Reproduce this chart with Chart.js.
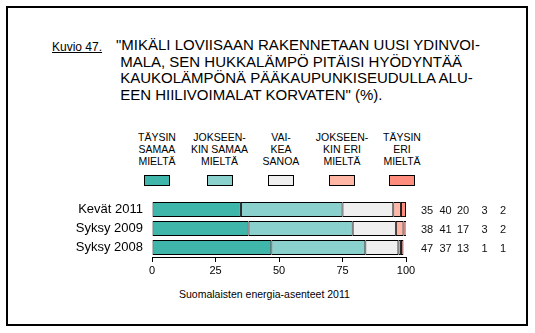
<!DOCTYPE html>
<html>
<head>
<meta charset="utf-8">
<script src="https://cdn.jsdelivr.net/npm/chart.js@4"></script>
<style>
  body { margin: 0; background: #fff; font-family: "Liberation Sans", Arial, sans-serif; }
  #wrap { position: relative; width: 535px; height: 333px; overflow: hidden; }
  #frame { position: absolute; left: 6px; top: 6px; width: 518px; height: 316px; border: 2px solid #000; }
  canvas { position: absolute; left: 0; top: 0; }
  .kuvio { position: absolute; left: 52px; top: 40px; font-size: 12px; text-decoration: underline; }
  .title { position: absolute; left: 116px; top: 37px; font-size: 15px; line-height: 16.7px; white-space: pre; }
  .leg { position: absolute; top: 131px; width: 70px; margin-left: -35px; text-align: center; font-size: 10.5px; line-height: 12px; }
  .legbox { position: absolute; top: 175px; width: 24px; height: 9px; margin-left: -13px; border: 1px solid #000; }
  .foot { position: absolute; left: 179px; top: 288px; font-size: 10.5px; }
</style>
</head>
<body>
<div id="wrap">
  <div id="frame"></div>
  <div class="kuvio">Kuvio 47.</div>
  <div class="title">"MIKÄLI LOVIISAAN RAKENNETAAN UUSI YDINVOI-
 MALA, SEN HUKKALÄMPÖ PITÄISI HYÖDYNTÄÄ
 KAUKOLÄMPÖNÄ PÄÄKAUPUNKISEUDULLA ALU-
 EEN HIILIVOIMALAT KORVATEN" (%).</div>
  <div id="legend"></div>
  <div class="foot">Suomalaisten energia-asenteet 2011</div>
  <canvas id="chart" width="535" height="333"></canvas>
</div>
<script>
const categories = ['Kevät 2011', 'Syksy 2009', 'Syksy 2008'];
const answers = [
  'TÄYSIN\nSAMAA\nMIELTÄ',
  'JOKSEEN-\nKIN SAMAA\nMIELTÄ',
  'VAI-\nKEA\nSANOA',
  'JOKSEEN-\nKIN ERI\nMIELTÄ',
  'TÄYSIN\nERI\nMIELTÄ'
];
const taysinSamaa = [35, 38, 47];
const jokseenkinSamaa = [40, 41, 37];
const vaikeaSanoa = [20, 17, 13];
const jokseenkinEri = [3, 3, 1];
const taysinEri = [2, 2, 1];
const xTicks = [0, 25, 50, 75, 100];

const colors = ['#40b5aa', '#8ad0cc', '#efefef', '#ffb6a5', '#ff8d7d'];
const series = [taysinSamaa, jokseenkinSamaa, vaikeaSanoa, jokseenkinEri, taysinEri];

// legend columns above the chart
const legendX = [157, 219.5, 281, 342, 402];
const legend = document.getElementById('legend');
answers.forEach((a, i) => {
  const t = document.createElement('div');
  t.className = 'leg';
  t.style.left = legendX[i] + 'px';
  t.innerHTML = a.split('\n').join('<br>');
  legend.appendChild(t);
  const b = document.createElement('div');
  b.className = 'legbox';
  b.style.left = legendX[i] + 'px';
  b.style.background = colors[i];
  legend.appendChild(b);
});

// percentage table to the right of the bars
const numberX = [427, 445.5, 463, 484.5, 503];
const valueTable = {
  id: 'valueTable',
  afterDatasetsDraw(chart) {
    const ctx = chart.ctx;
    const y = chart.scales.y;
    ctx.save();
    ctx.font = '11px "Liberation Sans", Arial, sans-serif';
    ctx.fillStyle = '#111';
    ctx.textAlign = 'center';
    ctx.textBaseline = 'middle';
    categories.forEach((c, i) => {
      const py = y.getPixelForValue(i);
      series.forEach((s, j) => ctx.fillText(String(s[i]), numberX[j], py + 1));
    });
    ctx.restore();
  }
};

new Chart(document.getElementById('chart'), {
  type: 'bar',
  data: {
    labels: categories,
    datasets: series.map((s, i) => ({
      label: answers[i].replace(/\n/g, ' '),
      data: s,
      backgroundColor: colors[i],
      borderColor: '#000',
      borderWidth: 1,
      borderSkipped: false,
      barPercentage: 0.8,
      categoryPercentage: 1
    }))
  },
  options: {
    indexAxis: 'y',
    responsive: false,
    animation: false,
    layout: { padding: { top: 200, right: 129, left: 0, bottom: 0 } },
    plugins: { legend: { display: false }, tooltip: { enabled: false } },
    scales: {
      x: {
        stacked: true,
        min: 0,
        max: 100,
        afterBuildTicks(scale) { scale.ticks = xTicks.map(v => ({ value: v })); },
        afterFit(scale) { scale.height = 333 - 257; },
        border: { display: true, color: '#000', width: 1 },
        grid: { drawOnChartArea: false, drawTicks: true, tickLength: 5, color: '#000' },
        ticks: { color: '#000', padding: 2, font: { family: '"Liberation Sans", Arial', size: 11 } }
      },
      y: {
        stacked: true,
        afterFit(scale) { scale.width = 152; },
        border: { display: false },
        grid: { display: false },
        ticks: { color: '#000', padding: 1, autoSkip: false, font: { family: '"Liberation Sans", Arial', size: 13 } }
      }
    }
  },
  plugins: [valueTable]
});
</script>
</body>
</html>
